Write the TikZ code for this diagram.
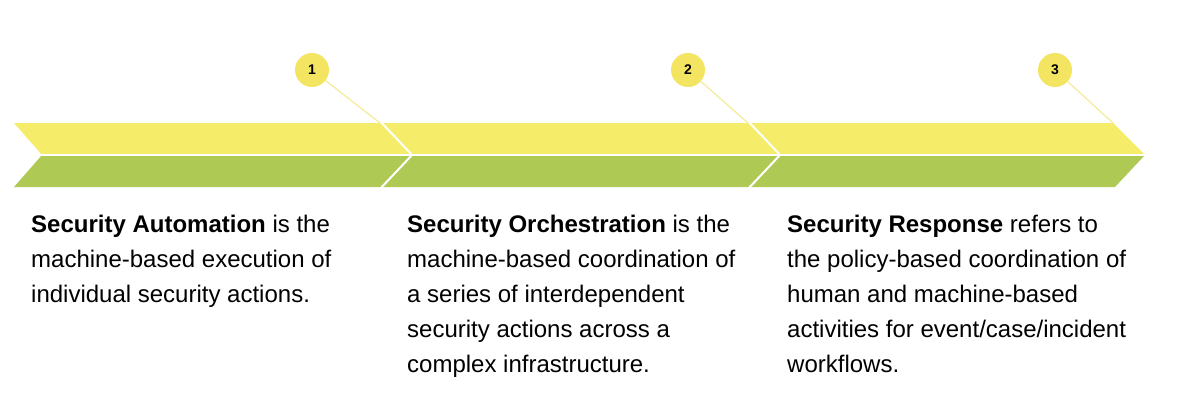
\documentclass[tikz,border=0pt]{standalone}
\usepackage{fontspec}
\setmainfont{Liberation Sans}
\definecolor{bandyellow}{HTML}{F5EC6A}
\definecolor{bandgreen}{HTML}{AFC955}
\definecolor{dotyellow}{HTML}{F3E461}
\definecolor{leadyellow}{HTML}{F4EC9E}
\begin{document}
\begin{tikzpicture}[x=1pt,y=-1pt,
  dot/.style={circle,fill=dotyellow,minimum size=34pt,inner sep=0pt,font=\fontsize{14}{16}\selectfont\bfseries},
  lead/.style={draw=leadyellow,line width=1.3pt},
  para/.style={anchor=north west,inner sep=0pt,align=left,font=\fontsize{24}{35}\selectfont}]
\useasboundingbox (0,0) rectangle (1177,415);
% yellow band
\fill[bandyellow] (14,123) -- (380,123) -- (412,155) -- (42,155) -- cycle;
\fill[bandyellow] (380,123) -- (748,123) -- (780,155) -- (412,155) -- cycle;
\fill[bandyellow] (748,123) -- (1113,123) -- (1145,155) -- (780,155) -- cycle;
% green band
\fill[bandgreen] (42,155) -- (412,155) -- (380,187) -- (14,187) -- cycle;
\fill[bandgreen] (412,155) -- (780,155) -- (748,187) -- (380,187) -- cycle;
\fill[bandgreen] (780,155) -- (1145,155) -- (1115,187) -- (748,187) -- cycle;
% white separators
\draw[white,line width=2.5pt] (20,155) -- (1150,155);
\draw[white,line width=2pt] (380,121) -- (412,155) -- (380,189);
\draw[white,line width=2pt] (748,121) -- (780,155) -- (748,189);
% markers
\node[dot] (n1) at (312,70) {1};
\node[dot] (n2) at (688,70) {2};
\node[dot] (n3) at (1055,70) {3};
\coordinate (t1) at (380,123);
\coordinate (t2) at (748,123);
\coordinate (t3) at (1113,123);
\draw[lead] (n1) -- (t1);
\draw[lead] (n2) -- (t2);
\draw[lead] (n3) -- (t3);
% texts
\node[para] (p1) at (31,215) {\textbf{Security Automation} is the\\machine-based execution of\\individual security actions.};
\node[para] (p2) at (407,215) {\textbf{Security Orchestration} is the\\machine-based coordination of\\a series of interdependent\\security actions across a\\complex infrastructure.};
\node[para] (p3) at (787,215) {\textbf{Security Response} refers to\\the policy-based coordination of\\human and machine-based\\activities for event/case/incident\\workflows.};
\end{tikzpicture}
\end{document}
